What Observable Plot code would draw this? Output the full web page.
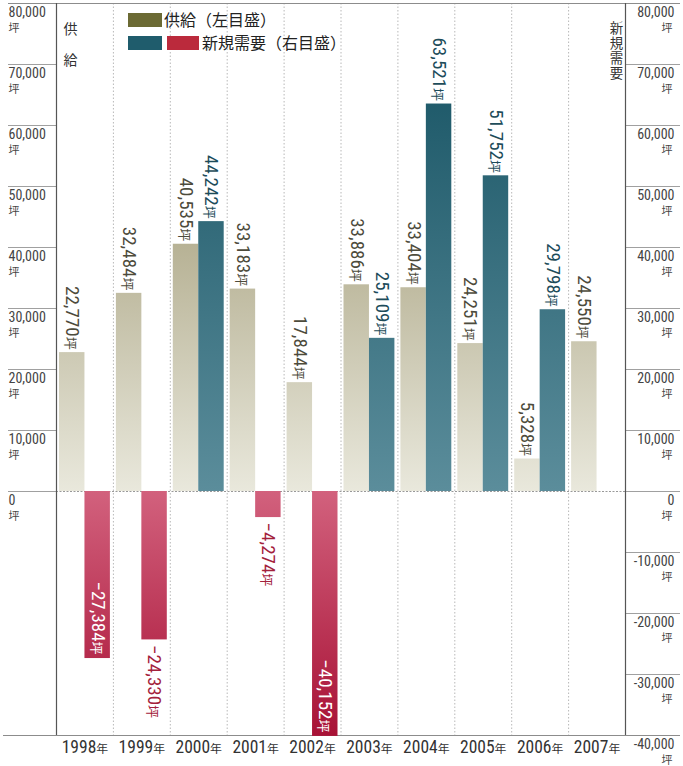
<!DOCTYPE html>
<html>
<head>
<meta charset="utf-8">
<script src="https://cdn.jsdelivr.net/npm/d3@7"></script>
<script src="https://cdn.jsdelivr.net/npm/@observablehq/plot@0.6"></script>
<style>
  body { margin: 0; background: #fff; }
  #chart { position: relative; width: 683px; height: 766px; }
  .legend { position: absolute; left: 0; top: 0; font-family: "Noto Sans CJK JP", sans-serif; font-size: 16px; color: #222; }
  .legend .sw { position: absolute; height: 14px; }
  .legend .lbl { position: absolute; white-space: nowrap; line-height: 16px; }
  text.vtitle { writing-mode: vertical-rl; text-orientation: upright; letter-spacing: 1.6px; }
</style>
</head>
<body>
<div id="chart"></div>
<script>
// 年別の供給量（左目盛）と新規需要（右目盛）、単位は坪
const years = ["1998", "1999", "2000", "2001", "2002", "2003", "2004", "2005", "2006", "2007"];
const supply = [22770, 32484, 40535, 33183, 17844, 33886, 33404, 24251, 5328, 24550];
const demand = [-27384, -24330, 44242, -4274, -40152, 25109, 63521, 51752, 29798, null];
const leftTicks = [80000, 70000, 60000, 50000, 40000, 30000, 20000, 10000, 0];
const rightTicks = [80000, 70000, 60000, 50000, 40000, 30000, 20000, 10000, 0, -10000, -20000, -30000, -40000];

const W = 683, H = 766;
const xLeft = 56, xRight = 625;
const bw = (xRight - xLeft) / years.length;
const barW = (bw - 6) / 2;

const supplyData = years.map((year, i) => ({year, value: supply[i]}));
const demandData = years.map((year, i) => ({year, value: demand[i]})).filter(d => d.value != null);
const demandPos = demandData.filter(d => d.value > 0);
const demandNegIn = demandData.filter(d => d.value < 0 && -d.value >= 25000);
const demandNegOut = demandData.filter(d => d.value < 0 && -d.value < 25000);

const fmt = d3.format(",");
const fmtAxis = v => fmt(v).replace("\u2212", "-");
const numFont = '"Liberation Sans Narrow", "Roboto Condensed", "DejaVu Sans Condensed", "Noto Sans CJK JP", sans-serif';
const cjkFont = '"Noto Sans CJK JP", sans-serif';

const supplyDx = -(bw / 2 - 3 - barW / 2);
const demandDx = (bw / 2 - 3 - barW / 2);

// gradients laid out in data space so that longer bars reach deeper tones
function gradients(index, {y}) {
  const defs = d3.create("svg:defs");
  const add = (id, v0, v1, c0, c1) => {
    const g = defs.append("linearGradient").attr("id", id).attr("gradientUnits", "userSpaceOnUse")
      .attr("x1", 0).attr("x2", 0).attr("y1", y(v0)).attr("y2", y(v1));
    g.append("stop").attr("offset", 0).attr("stop-color", c0);
    g.append("stop").attr("offset", 1).attr("stop-color", c1);
  };
  add("gSupply", 0, 50000, "#e9e8dc", "#aba584");
  add("gTeal", 0, 65000, "#5b8d9b", "#1f5a6a");
  add("gRed", 0, -40000, "#d2617d", "#a81236");
  return defs.node();
}

const axisLabel = d => fmtAxis(d) + "\n坪";
const needsTitle = "新規需要";

const chart = Plot.plot({
  width: W,
  height: H,
  margin: 0,
  style: {fontFamily: numFont, background: "#fff", overflow: "visible"},
  x: {type: "band", domain: years, range: [xLeft, xRight], padding: 0, round: false, axis: null},
  y: {domain: [-40000, 80000], range: [735, 3], axis: null},
  marks: [
    gradients,
    // category separators
    Plot.ruleX(years.slice(1), {x: d => d, dx: -bw / 2, y1: 80000, y2: -40000, stroke: "#b8b8b8", strokeDasharray: "1.5,2"}),
    // tick lines on each side
    Plot.ruleY(leftTicks, {y: d => d, insetLeft: 8, insetRight: W - xLeft, stroke: "#a0a0a0"}),
    Plot.ruleY(rightTicks, {y: d => d, insetLeft: xRight, insetRight: 3, stroke: "#a0a0a0"}),
    Plot.ruleY([80000], {insetLeft: 8, insetRight: 3, stroke: "#8c8c8c"}),
    Plot.ruleY([-40000], {insetLeft: 3, insetRight: 3, stroke: "#8c8c8c"}),
    Plot.ruleY([0], {insetLeft: xLeft, insetRight: W - xRight, stroke: "#999", strokeDasharray: "2,1.5"}),
    // bars
    Plot.barY(supplyData, {x: "year", y: "value", fill: "url(#gSupply)", insetLeft: 3, insetRight: bw - 3 - barW}),
    Plot.barY(demandPos, {x: "year", y: "value", fill: "url(#gTeal)", insetLeft: 3 + barW, insetRight: 3}),
    Plot.barY(demandData.filter(d => d.value < 0), {x: "year", y: "value", fill: "url(#gRed)", insetLeft: 3 + barW, insetRight: 3}),
    // axis frame lines
    Plot.ruleX([years[0]], {x: d => d, dx: -bw / 2, y1: 80000, y2: -40000, stroke: "#555", strokeWidth: 1.2}),
    Plot.ruleX([years[years.length - 1]], {x: d => d, dx: bw / 2, y1: 80000, y2: -40000, stroke: "#555", strokeWidth: 1.2}),
    // value labels
    Plot.text(supplyData, {x: "year", y: "value", text: d => fmt(d.value) + "坪", rotate: 90, textAnchor: "end", dx: supplyDx, dy: -3, fontSize: 19, fill: "#4d4b3c"}),
    Plot.text(demandPos, {x: "year", y: "value", text: d => fmt(d.value) + "坪", rotate: 90, textAnchor: "end", dx: demandDx, dy: -3, fontSize: 19, fill: "#1d4c5a"}),
    Plot.text(demandNegIn, {x: "year", y: "value", text: d => fmt(d.value) + "坪", rotate: 90, textAnchor: "end", dx: demandDx, dy: -4, fontSize: 19, fill: "#fff"}),
    Plot.text(demandNegOut, {x: "year", y: "value", text: d => fmt(d.value) + "坪", rotate: 90, textAnchor: "start", dx: demandDx, dy: 5, fontSize: 19, fill: "#a3213b"}),
    // axis labels, value over unit
    Plot.text(leftTicks, {y: d => d, text: axisLabel, frameAnchor: "left", dx: 8, textAnchor: "start", lineAnchor: "top", dy: 4, fontSize: 14, fill: "#444"}),
    Plot.text(rightTicks, {y: d => d, text: axisLabel, frameAnchor: "right", dx: -9, textAnchor: "end", lineAnchor: "top", dy: 4, fontSize: 14, fill: "#444"}),
    // year labels
    Plot.text(years, {x: d => d, text: d => d + "年", frameAnchor: "bottom", dy: -14, fontSize: 17.5, fill: "#333"}),
    // vertical axis titles
    Plot.text(["供\n給"], {text: d => d, frameAnchor: "top-left", dx: 70, dy: 12, lineAnchor: "top", lineHeight: 2.2, fontSize: 14, textAnchor: "middle", fill: "#333", fontFamily: cjkFont}),
    Plot.text([needsTitle], {text: d => d, frameAnchor: "top-right", dx: -67, dy: 11, textAnchor: "start", fontSize: 13.5, fill: "#333", fontFamily: cjkFont})
  ]
});

// upright vertical setting for the right-hand title
d3.select(chart).selectAll("text")
  .filter(function() { return this.textContent === needsTitle; })
  .classed("vtitle", true)
  .attr("dy", null)
  .attr("writing-mode", "vertical-rl");

// set the unit suffix (坪, 年) in a smaller size
d3.select(chart).selectAll("text").each(function() {
  const spans = this.querySelectorAll("tspan");
  if (spans.length) {
    spans.forEach(s => {
      if (s.textContent === "坪") {
        d3.select(s).style("font-size", "11px").style("font-family", cjkFont).attr("dy", "15px");
        if (this.getAttribute("text-anchor") === "end" || this.closest("[text-anchor=end]")) d3.select(s).attr("dx", -2);
      }
    });
    return;
  }
  const m = this.textContent.match(/^(.+?)([坪年])$/);
  if (!m) return;
  this.textContent = m[1];
  d3.select(this).append("tspan").text(m[2])
    .style("font-size", "68%").style("font-family", cjkFont);
});

const host = document.getElementById("chart");
host.appendChild(chart);

// legend
const legend = d3.select(host).append("div").attr("class", "legend");
const items = [
  {left: 128, top: 13, w: 34, color: "#6b6a34"},
  {left: 128, top: 36, w: 34, color: "#1f5c6c"},
  {left: 167, top: 36, w: 32, color: "#bb2a3c"}
];
items.forEach(s => legend.append("span").attr("class", "sw")
  .style("left", s.left + "px").style("top", s.top + "px").style("width", s.w + "px").style("background", s.color));
legend.append("span").attr("class", "lbl").style("left", "164px").style("top", "11px").text("供給（左目盛）");
legend.append("span").attr("class", "lbl").style("left", "202px").style("top", "34px").text("新規需要（右目盛）");
</script>
</body>
</html>
